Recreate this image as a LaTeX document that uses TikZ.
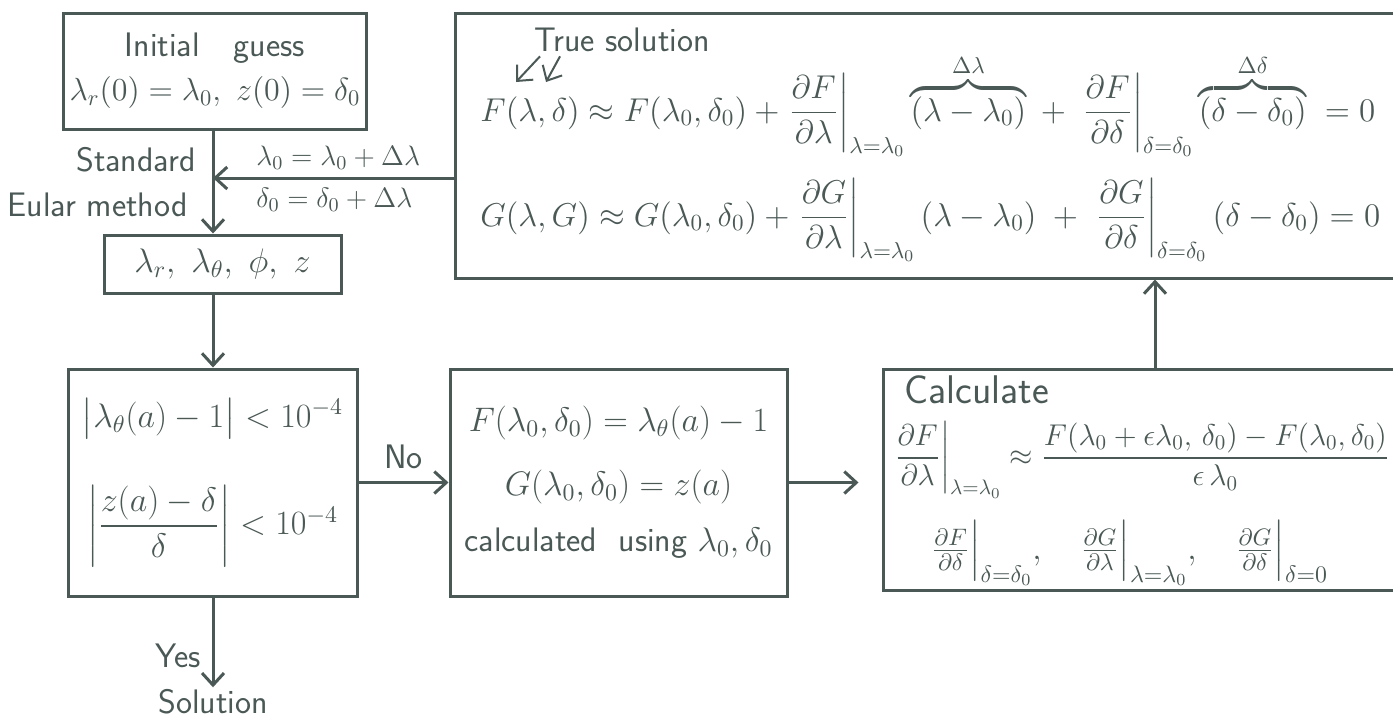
\RequirePackage{fix-cm}
\documentclass[tikz,border=0pt]{standalone}
\usepackage{amsmath,amssymb}
\usepackage{xcolor}
\usetikzlibrary{arrows.meta, positioning, calc}
\definecolor{ink}{HTML}{4A5856}
\tikzset{
  flowbox/.style={
    draw=ink, line width=1.5pt, align=center, text=ink,
    font=\fontsize{17}{20}\selectfont, inner sep=3pt
  },
  flowarrow/.style={
    -{Straight Barb[length=6pt, width=11pt]}, draw=ink, line width=1.5pt
  },
  flowlabel/.style={
    text=ink, font=\sffamily\fontsize{17}{20}\selectfont, inner sep=1pt
  },
  eqtext/.style={
    text=ink, font=\fontsize{16.5}{19}\selectfont, inner sep=0pt
  },
}

\begin{document}
\begin{tikzpicture}[x=0.5pt, y=-0.5pt]
  \clip (0,0) rectangle (1393,720);
  \fill[white] (0,0) rectangle (1393,720);

  % ── Left column ────────────────────────────────────────────────
  \node[flowbox, minimum width=148pt, minimum height=58pt] (init) at (215,71)
    {\sffamily Initial\quad guess\\[2pt]
     {\fontsize{16}{19}\selectfont$\lambda_r(0)=\lambda_0,\ z(0)=\delta_0$}};
  \node[flowbox, minimum width=118.5pt, minimum height=29pt] (state) at (222.5,264)
    {$\lambda_r,\ \lambda_\theta,\ \phi,\ z$};
  \node[flowbox, minimum width=144.5pt, minimum height=113.5pt] (check) at (212.5,482.5)
    {$\bigl|\lambda_\theta(a)-1\bigr|<10^{-4}$\\[22pt]
     $\left|\dfrac{z(a)-\delta}{\delta}\right|<10^{-4}$};
  \node[flowlabel] (sol) at (213,702) {Solution};

  \coordinate (spine) at (213,129);
  \draw[flowarrow] (spine) -- (spine |- state.north);
  \draw[flowarrow] (spine |- state.south) -- (spine |- check.north);
  \draw[flowarrow] (spine |- check.south) -- (sol.north);

  \node[flowlabel, anchor=east] (std) at (198,160) {Standard};
  \node[flowlabel, anchor=east] (euler) at (190,205) {Eular method};
  \node[flowlabel, anchor=east] (yes) at (203,656) {Yes};

  % ── Middle box ─────────────────────────────────────────────────
  \node[flowbox, minimum width=168.5pt, minimum height=113.5pt] (fg) at (618.5,482.5)
    {$F(\lambda_0,\delta_0)=\lambda_\theta(a)-1$\\[12pt]
     $G(\lambda_0,\delta_0)=z(a)$\\[8pt]
     {\sffamily calculated\ \ using} $\lambda_0,\delta_0$};
  \draw[flowarrow] (check.east) -- (fg.west)
    node[flowlabel, midway, above=5pt] (no) {No};

  % ── Derivative box ─────────────────────────────────────────────
  \node[flowbox, minimum width=268.5pt, minimum height=110.5pt] (calc) at (1151.5,479.5) {};
  \node[flowlabel, anchor=west, font=\sffamily\fontsize{20}{24}\selectfont] (calctitle)
    at (902,390) {Calculate};
  \node[eqtext, font=\fontsize{15}{18}\selectfont] (calcmain) at (1141,460)
    {$\displaystyle\left.\frac{\partial F}{\partial\lambda}\right|_{\lambda=\lambda_0}
      \approx\frac{F(\lambda_0+\epsilon\lambda_0,\,\delta_0)-F(\lambda_0,\delta_0)}{\epsilon\,\lambda_0}$};
  \node[eqtext, font=\fontsize{17}{20}\selectfont] (calcrest) at (1130,553)
    {$\frac{\partial F}{\partial\delta}\Big|_{\delta=\delta_0},\quad
      \frac{\partial G}{\partial\lambda}\Big|_{\lambda=\lambda_0},\quad
      \frac{\partial G}{\partial\delta}\Big|_{\delta=0}$};
  \draw[flowarrow, shorten >=11.5pt] (fg.east) -- (fg.east -| calc.west);

  % ── Linearisation box ──────────────────────────────────────────
  \node[flowbox, minimum width=482.5pt, minimum height=132.5pt] (big) at (937.5,145.5) {};
  \node[flowlabel] (truesol) at (622,40) {True solution};
  \node[eqtext, anchor=base west] (eqF) at (480,121)
    {$\displaystyle F(\lambda,\delta)\approx F(\lambda_0,\delta_0)+
      \left.\frac{\partial F}{\partial\lambda}\right|_{\lambda=\lambda_0}
      \overbrace{(\lambda-\lambda_0)}^{\Delta\lambda}\;+\;
      \left.\frac{\partial F}{\partial\delta}\right|_{\delta=\delta_0}
      \overbrace{(\delta-\delta_0)}^{\Delta\delta}\;=0$};
  \node[eqtext, anchor=base west] (eqG) at (480,226)
    {$\displaystyle G(\lambda,G)\approx G(\lambda_0,\delta_0)+
      \left.\frac{\partial G}{\partial\lambda}\right|_{\lambda=\lambda_0}
      (\lambda-\lambda_0)\;+\;
      \left.\frac{\partial G}{\partial\delta}\right|_{\delta=\delta_0}
      (\delta-\delta_0)=0$};
  \coordinate (lam) at (516,82);
  \coordinate (del) at (546,82);
  \draw[flowarrow, line width=1pt] (truesol.south west) ++(8,2) -- (lam);
  \draw[flowarrow, line width=1pt] (truesol.south west) ++(28,2) -- (del);

  % feedback and update
  \coordinate (update) at (455,178);
  \draw[flowarrow] (update) -- (update -| spine);
  \node[flowlabel, anchor=west, font=\fontsize{14}{17}\selectfont] (upd1)
    at (254,158) {$\lambda_0=\lambda_0+\Delta\lambda$};
  \node[flowlabel, anchor=west, font=\fontsize{14}{17}\selectfont] (upd2)
    at (254,200) {$\delta_0=\delta_0+\Delta\lambda$};
  \coordinate (up) at (1155,369);
  \draw[flowarrow] (up) -- (up |- big.south);
\end{tikzpicture}
\end{document}
